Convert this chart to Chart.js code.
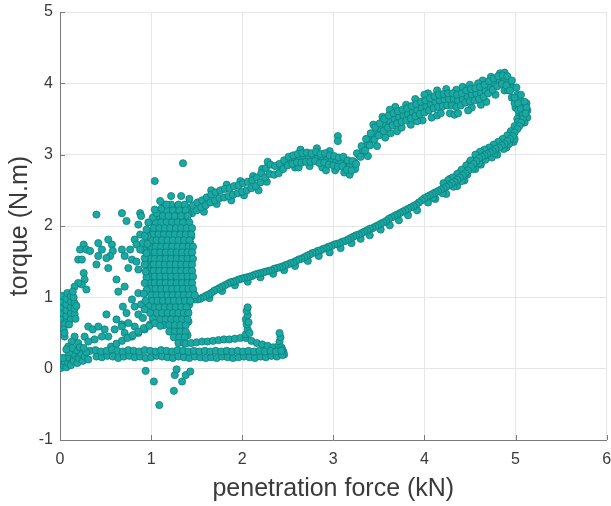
<!DOCTYPE html>
<html>
<head>
<meta charset="utf-8">
<script src="https://cdn.jsdelivr.net/npm/chart.js@4.4.0/dist/chart.umd.min.js"></script>
<style>
html,body{margin:0;padding:0;background:#fff;}
canvas{display:block;}
</style>
</head>
<body>
<canvas id="grafTorque" width="611" height="506"></canvas>
<script>
//	Ensayo de penetracion: par frente a fuerza de penetracion, puntos [kN, N.m]

var tituloX='penetration force (kN)';
var tituloY='torque (N.m)';
var ticksX=[0,1,2,3,4,5,6];
var ticksY=[-1,0,1,2,3,4,5];

//	rama de carga (superior)
var ramaCarga=[
[1.40,2.15],[1.40,2.25],[1.45,2.18],[1.46,2.29],[1.50,2.22],[1.51,2.33],[1.55,2.26],[1.56,2.36],
[1.60,2.29],[1.61,2.40],[1.65,2.33],[1.66,2.44],[1.70,2.36],[1.71,2.47],[1.75,2.39],[1.76,2.50],
[1.80,2.40],[1.81,2.52],[1.85,2.42],[1.86,2.53],[1.90,2.44],[1.91,2.56],[1.95,2.46],[1.96,2.57],
[2.00,2.48],[2.01,2.60],[2.05,2.50],[2.06,2.62],[2.10,2.53],[2.11,2.64],[2.15,2.56],[2.16,2.68],
[2.20,2.61],[2.21,2.74],[2.25,2.68],[2.26,2.81],[2.30,2.73],[2.31,2.86],[2.35,2.72],[2.36,2.84],
[2.40,2.74],[2.41,2.87],[2.45,2.80],[2.46,2.92],[2.50,2.85],[2.51,2.97],[2.55,2.87],[2.56,2.99],
[2.60,2.89],[2.61,3.01],[2.65,2.89],[2.66,3.02],[2.70,2.90],[2.71,3.03],[2.75,2.90],[2.76,3.02],
[2.80,2.91],[2.81,3.04],[2.85,2.88],[2.86,3.01],[2.90,2.89],[2.91,3.02],[2.95,2.86],[2.96,2.99],
[3.00,2.85],[3.01,2.98],[3.05,2.83],[3.06,2.96],[3.10,2.84],[3.11,2.97],[3.15,2.79],[3.16,2.92],
[3.20,2.78],[3.21,2.91],[3.25,2.87],[3.26,3.02],[3.30,2.97],[3.31,3.12],[3.35,3.06],[3.36,3.22],
[3.40,3.13],[3.41,3.30],[3.45,3.21],[3.46,3.38],[3.50,3.27],[3.51,3.44],[3.55,3.33],[3.56,3.50],
[3.60,3.38],[3.61,3.55],[3.65,3.41],[3.66,3.58],[3.70,3.44],[3.71,3.61],[3.75,3.46],[3.76,3.63],
[3.80,3.48],[3.81,3.65],[3.85,3.51],[3.86,3.68],[3.90,3.54],[3.91,3.71],[3.95,3.57],[3.96,3.74],
[4.00,3.59],[4.01,3.76],[4.05,3.62],[4.06,3.79],[4.10,3.65],[4.11,3.82],[4.15,3.67],[4.16,3.84],
[4.20,3.68],[4.21,3.85],[4.25,3.69],[4.26,3.86],[4.30,3.69],[4.31,3.86],[4.35,3.67],[4.36,3.84],
[4.40,3.69],[4.41,3.86],[4.45,3.73],[4.46,3.90],[4.50,3.75],[4.51,3.92],[4.55,3.76],[4.56,3.93],
[4.60,3.78],[4.61,3.95],[4.65,3.81],[4.66,3.98],[4.70,3.86],[4.71,4.03],[4.75,3.91],[4.76,4.07],
[4.80,3.96],[4.81,4.10],[4.85,3.99],[4.86,4.11],[4.90,3.97],[4.91,4.10],[4.94,3.90],[4.96,4.04],
[4.99,3.80],[5.01,3.94],[5.03,3.72],[5.06,3.84],[5.06,3.64],[5.10,3.74],[5.08,3.56],[5.12,3.66],
[5.08,3.50],[5.11,3.58],[5.06,3.44]
];
var ramaCargaCentro=[
[3.32,3.05],[3.37,3.14],[3.42,3.22],[3.47,3.30],[3.52,3.36],[3.57,3.42],[3.62,3.47],[3.67,3.50],
[3.72,3.53],[3.77,3.55],[3.82,3.57],[3.87,3.60],[3.92,3.63],[3.97,3.66],[4.02,3.68],[4.07,3.71],
[4.12,3.74],[4.17,3.76],[4.22,3.77],[4.27,3.78],[4.32,3.78],[4.37,3.76],[4.42,3.78],[4.47,3.82],
[4.52,3.84],[4.57,3.85],[4.62,3.87],[4.67,3.90],[4.72,3.95],[4.77,4.00],[4.82,4.04],[4.87,4.06],
[4.92,4.02],[4.97,3.94],[5.02,3.84],[5.05,3.76],[5.09,3.66],[5.10,3.58],[5.06,3.52],[5.03,3.62],
[4.99,3.72],[5.02,3.50],
[3.57,3.24],[3.75,3.38],[3.92,3.47],[4.18,3.58],[4.37,3.58],[4.48,3.62],[3.62,3.63],[4.00,3.84],
[4.42,3.95],[4.59,4.00],[2.92,2.78],[3.05,3.26],[3.05,3.19],[2.27,2.62],[2.62,2.82]
];
//	bordes irregulares de la rama de carga
var ramaCargaBorde=[
[3.38,2.98],[3.48,3.12],[3.63,3.30],[3.70,3.33],[3.85,3.42],[3.98,3.48],[4.08,3.52],[4.14,3.55],
[4.28,3.58],[4.33,3.56],[4.52,3.66],[4.62,3.70],[4.68,3.74],[4.78,3.84],[4.88,3.90],
[3.44,3.42],[3.54,3.53],[3.68,3.67],[3.80,3.70],[3.90,3.78],[4.04,3.86],[4.14,3.90],[4.24,3.92],
[4.35,3.91],[4.50,3.98],[4.64,4.04],[4.73,4.09],[4.83,4.14],[4.88,4.15],
[2.43,2.80],[2.48,2.88],[2.53,2.91],[2.58,2.94],[2.63,2.95],[2.68,2.96],[2.73,2.96],[2.78,2.97],
[2.83,2.95],[2.88,2.95],[2.93,2.93],[2.98,2.91],[3.03,2.90],[3.08,2.90],[3.13,2.86],[3.18,2.84],
[3.23,2.90],[3.28,3.00],
[2.58,2.82],[2.74,2.84],[2.88,2.82],[3.02,2.78],[3.12,2.75],[3.18,2.72],[3.24,2.80],
[2.64,3.07],[2.82,3.09],[2.96,3.05],
[1.58,2.20],[1.72,2.31],[1.88,2.36],[2.02,2.43],[2.18,2.50],[1.66,2.50],[1.83,2.58],[1.98,2.63],
[2.12,2.70],[2.22,2.80],[2.28,2.90],
[5.12,3.72],[5.13,3.62],[5.13,3.52],[5.10,3.45],[5.04,3.56],[5.00,3.66],[4.96,3.80],[4.92,3.90],
[5.04,3.68]
];

//	rama de descarga (inferior)
var ramaDescarga=[
[5.06,3.45],[5.04,3.40],[5.02,3.36],[4.99,3.31],[4.97,3.26],[4.94,3.22],[4.91,3.19],[4.88,3.15],
[4.85,3.13],[4.82,3.10],[4.78,3.08],[4.75,3.05],[4.72,3.03],[4.69,3.01],[4.66,2.99],[4.63,2.97],
[4.60,2.95],[4.57,2.91],[4.54,2.87],[4.51,2.83],[4.48,2.78],[4.45,2.74],[4.42,2.71],[4.39,2.68],
[4.36,2.65],[4.33,2.62],[4.30,2.60],[4.27,2.57],[4.24,2.55],[4.21,2.53],[4.18,2.51],[4.15,2.49],
[4.12,2.47],[4.09,2.45],[4.06,2.43],[4.03,2.41],[4.00,2.39],[3.97,2.36],[3.94,2.33],[3.91,2.30],
[3.88,2.28],[3.85,2.26],[3.82,2.24],[3.79,2.22],[3.76,2.20],[3.73,2.18],[3.70,2.16],[3.67,2.14],
[3.64,2.12],[3.61,2.10],[3.58,2.07],[3.55,2.05],[3.52,2.03],[3.49,2.01],[3.46,1.99],[3.43,1.97],
[3.40,1.96],[3.37,1.94],[3.34,1.92],[3.31,1.90],[3.28,1.88],[3.25,1.87],[3.22,1.85],[3.19,1.83],
[3.16,1.81],[3.13,1.79],[3.10,1.78],[3.07,1.76],[3.04,1.75],[3.01,1.74],[2.98,1.72],[2.95,1.71],
[2.92,1.69],[2.89,1.68],[2.86,1.66],[2.83,1.65],[2.80,1.63],[2.77,1.62],[2.74,1.60],[2.71,1.58],
[2.68,1.56],[2.65,1.54],[2.62,1.53],[2.59,1.51],[2.56,1.49],[2.53,1.48],[2.50,1.46],[2.47,1.45],
[2.44,1.43],[2.41,1.42],[2.38,1.41],[2.35,1.40],[2.32,1.38],[2.29,1.37],[2.26,1.36],[2.23,1.35],
[2.20,1.34],[2.17,1.33],[2.14,1.32],[2.11,1.30],[2.08,1.29],[2.05,1.28],[2.02,1.27],[1.99,1.26],
[1.96,1.25],[1.93,1.23],[1.90,1.22],[1.87,1.21],[1.84,1.19],[1.81,1.17],[1.78,1.15],[1.75,1.13],
[1.72,1.11],[1.69,1.09],[1.66,1.06],[1.63,1.04],[1.60,1.02],[1.57,1.00],[1.54,0.98],[1.51,0.97],
[1.48,0.97]
];
var dientesDescarga=[
[4.98,3.18],[4.90,3.10],[4.80,3.00],[4.74,2.96],[4.62,2.86],[4.56,2.80],[4.44,2.64],[4.36,2.56],
[4.24,2.45],[4.12,2.38],[4.04,2.33],[3.92,2.22],[3.82,2.15],[3.72,2.08],[3.62,2.01],[3.52,1.95],
[3.40,1.87],[3.30,1.82],[3.20,1.76],[3.08,1.69],[2.96,1.63],[2.84,1.58],[2.72,1.51],[2.58,1.44],
[2.46,1.38],[2.34,1.33],[2.20,1.28],[2.06,1.22],[1.92,1.17],[1.78,1.09],[1.64,0.99],
[4.95,3.32],[4.86,3.21],[4.70,3.07],[4.58,2.99],[4.50,2.90],[4.40,2.76],[4.28,2.66],
[5.03,3.46],[4.99,3.40],[4.95,3.33],[4.91,3.27],[4.86,3.22],[4.81,3.18],[4.76,3.14],[4.71,3.10],
[4.66,3.07],[4.61,3.04],[4.56,3.00],[4.51,2.92],[4.46,2.85],[4.41,2.79],[4.36,2.73],[4.31,2.68],
[4.26,2.64],[4.21,2.60],
[4.99,3.22],[4.93,3.15],[4.87,3.08],[4.77,3.02],[4.67,2.93],[4.60,2.88],[4.53,2.80],[4.47,2.72],
[4.41,2.63],[4.32,2.55],[4.20,2.46],[4.10,2.40]
];

//	nube de arranque (1 - 1.5 kN)
var nubeArranque=[
[1.15,2.30],[1.22,2.30],[1.30,2.30],[1.37,2.30],
[1.10,2.22],[1.17,2.22],[1.24,2.22],[1.31,2.22],[1.38,2.22],
[1.07,2.14],[1.13,2.14],[1.19,2.14],[1.26,2.14],[1.33,2.14],[1.40,2.14],
[1.05,2.05],[1.11,2.05],[1.17,2.05],[1.23,2.05],[1.29,2.05],[1.35,2.05],[1.42,2.05],
[1.03,1.97],[1.09,1.97],[1.15,1.97],[1.21,1.97],[1.27,1.97],[1.33,1.97],[1.39,1.97],[1.45,1.97],
[1.02,1.88],[1.08,1.88],[1.14,1.88],[1.20,1.88],[1.26,1.88],[1.32,1.88],[1.38,1.88],[1.44,1.88],
[1.00,1.80],[1.06,1.80],[1.12,1.80],[1.18,1.80],[1.24,1.80],[1.30,1.80],[1.36,1.80],[1.42,1.80],
[0.99,1.71],[1.05,1.71],[1.11,1.71],[1.17,1.71],[1.23,1.71],[1.29,1.71],[1.35,1.71],[1.41,1.71],[1.46,1.71],
[0.98,1.63],[1.04,1.63],[1.10,1.63],[1.16,1.63],[1.22,1.63],[1.28,1.63],[1.34,1.63],[1.40,1.63],[1.45,1.63],
[0.98,1.54],[1.04,1.54],[1.10,1.54],[1.16,1.54],[1.22,1.54],[1.28,1.54],[1.34,1.54],[1.40,1.54],[1.46,1.54],
[0.97,1.46],[1.03,1.46],[1.09,1.46],[1.15,1.46],[1.21,1.46],[1.27,1.46],[1.33,1.46],[1.39,1.46],[1.45,1.46],
[0.97,1.37],[1.03,1.37],[1.09,1.37],[1.15,1.37],[1.21,1.37],[1.27,1.37],[1.33,1.37],[1.39,1.37],[1.45,1.37],
[0.98,1.29],[1.04,1.29],[1.10,1.29],[1.16,1.29],[1.22,1.29],[1.28,1.29],[1.34,1.29],[1.40,1.29],[1.46,1.29],
[0.98,1.20],[1.04,1.20],[1.10,1.20],[1.16,1.20],[1.22,1.20],[1.28,1.20],[1.34,1.20],[1.40,1.20],[1.45,1.20],
[0.99,1.12],[1.05,1.12],[1.11,1.12],[1.17,1.12],[1.23,1.12],[1.29,1.12],[1.35,1.12],[1.41,1.12],[1.46,1.12],
[1.00,1.03],[1.06,1.03],[1.12,1.03],[1.18,1.03],[1.24,1.03],[1.30,1.03],[1.36,1.03],[1.42,1.03],[1.48,1.03],
[1.01,0.95],[1.07,0.95],[1.13,0.95],[1.19,0.95],[1.25,0.95],[1.31,0.95],[1.37,0.95],[1.43,0.95],
[1.03,0.86],[1.09,0.86],[1.15,0.86],[1.21,0.86],[1.27,0.86],[1.33,0.86],[1.39,0.86],
[1.06,0.78],[1.12,0.78],[1.18,0.78],[1.24,0.78],[1.30,0.78],[1.36,0.78],[1.41,0.78],
[1.10,0.69],[1.16,0.69],[1.22,0.69],[1.28,0.69],[1.34,0.69],[1.40,0.69],
[1.14,0.61],[1.20,0.61],[1.26,0.61],[1.32,0.61],[1.38,0.61],
[1.20,0.52],[1.26,0.52],[1.32,0.52],[1.38,0.52],
[1.25,0.44],[1.31,0.44],[1.37,0.44],
[1.30,0.36],[1.36,0.36],
[0.95,1.28],[0.94,1.48],[0.96,1.86],[0.92,1.66],[0.95,1.10],[0.97,0.88],[0.99,0.78],[1.02,0.70]
];
//	puntos intercalados de la nube
var nubeIntercalada=[
[1.13,2.26],[1.21,2.27],[1.27,2.25],[1.34,2.27],
[1.09,2.18],[1.16,2.19],[1.21,2.17],[1.28,2.18],[1.36,2.19],[1.41,2.17],
[1.06,2.09],[1.13,2.10],[1.18,2.08],[1.25,2.10],[1.32,2.09],[1.38,2.11],
[1.04,2.01],[1.10,2.02],[1.17,2.00],[1.22,2.01],[1.29,2.02],[1.34,2.00],[1.41,2.02],
[1.01,1.92],[1.07,1.93],[1.14,1.91],[1.19,1.92],[1.26,1.93],[1.31,1.91],[1.37,1.92],[1.43,1.93],
[1.01,1.84],[1.08,1.85],[1.13,1.83],[1.20,1.84],[1.25,1.85],[1.32,1.83],[1.37,1.84],[1.44,1.85],
[1.00,1.75],[1.07,1.76],[1.12,1.74],[1.19,1.75],[1.24,1.76],[1.31,1.74],[1.36,1.75],[1.43,1.76],
[0.99,1.67],[1.06,1.68],[1.11,1.66],[1.18,1.67],[1.23,1.68],[1.30,1.66],[1.35,1.67],[1.42,1.68],
[1.00,1.58],[1.07,1.59],[1.12,1.57],[1.19,1.58],[1.24,1.59],[1.31,1.57],[1.36,1.58],[1.43,1.59],
[0.99,1.50],[1.06,1.51],[1.11,1.49],[1.18,1.50],[1.23,1.51],[1.30,1.49],[1.35,1.50],[1.42,1.51],
[1.00,1.41],[1.07,1.42],[1.12,1.40],[1.19,1.41],[1.24,1.42],[1.31,1.40],[1.36,1.41],[1.43,1.42],
[1.00,1.33],[1.07,1.34],[1.12,1.32],[1.19,1.33],[1.24,1.34],[1.31,1.32],[1.36,1.33],[1.43,1.34],
[1.01,1.24],[1.08,1.25],[1.13,1.23],[1.20,1.24],[1.25,1.25],[1.32,1.23],[1.37,1.24],[1.44,1.25],
[1.01,1.16],[1.08,1.17],[1.13,1.15],[1.20,1.16],[1.25,1.17],[1.32,1.15],[1.37,1.16],[1.44,1.17],
[1.03,1.07],[1.10,1.08],[1.15,1.06],[1.22,1.07],[1.27,1.08],[1.34,1.06],[1.39,1.07],[1.46,1.08],
[1.04,0.99],[1.11,1.00],[1.16,0.98],[1.23,0.99],[1.28,1.00],[1.35,0.98],[1.40,0.99],[1.47,1.00],
[1.06,0.90],[1.13,0.91],[1.18,0.89],[1.25,0.90],[1.30,0.91],[1.37,0.89],[1.42,0.90],
[1.09,0.82],[1.16,0.83],[1.21,0.81],[1.28,0.82],[1.33,0.83],[1.40,0.81],
[1.13,0.73],[1.20,0.74],[1.25,0.72],[1.32,0.73],[1.37,0.74],
[1.17,0.65],[1.24,0.66],[1.29,0.64],[1.36,0.65],[1.41,0.66],
[1.23,0.56],[1.30,0.57],[1.35,0.55],
[1.28,0.48],[1.35,0.49],[1.40,0.47]
];

//	linea base (par residual)
var lineaBase=[
[0.40,0.17],[0.46,0.16],[0.52,0.18],[0.58,0.17],[0.64,0.15],[0.70,0.17],[0.76,0.18],[0.82,0.16],
[0.88,0.17],[0.94,0.15],[1.00,0.16],[1.06,0.18],[1.12,0.17],[1.18,0.16],[1.24,0.15],[1.30,0.17],
[1.36,0.16],[1.42,0.15],[1.48,0.17],[1.54,0.16],[1.60,0.15],[1.66,0.16],[1.72,0.15],[1.78,0.17],
[1.84,0.16],[1.90,0.15],[1.96,0.16],[2.02,0.17],[2.08,0.16],[2.14,0.15],[2.20,0.17],[2.26,0.16],
[2.32,0.18],[2.38,0.17],[2.44,0.19],
[0.33,0.25],[0.39,0.26],[0.45,0.24],[0.51,0.25],[0.57,0.27],[0.63,0.25],[0.69,0.24],[0.75,0.26],
[0.81,0.25],[0.87,0.24],[0.93,0.26],[0.99,0.25],[1.05,0.24],[1.11,0.26],[1.17,0.25],[1.23,0.24],
[1.29,0.26],[1.35,0.25],[1.41,0.24],[1.47,0.25],[1.53,0.24],[1.59,0.25],[1.65,0.24],[1.71,0.25],
[1.77,0.24],[1.83,0.25],[1.89,0.24],[1.95,0.25],[2.01,0.24],[2.07,0.25],[2.13,0.24],[2.19,0.25],
[2.25,0.24],[2.31,0.25],[2.37,0.24],[2.43,0.25]
];
var lineaMedia=[
[1.38,0.35],[1.44,0.36],[1.50,0.37],[1.56,0.38],[1.62,0.38],[1.68,0.39],[1.74,0.40],[1.80,0.41],
[1.86,0.41],[1.92,0.42],[1.98,0.43],[2.04,0.43],[2.10,0.39],[2.16,0.36],[2.22,0.34],[2.28,0.32],
[2.34,0.30],
[2.04,0.48],[2.06,0.55],[2.05,0.62],[2.04,0.69],[2.06,0.75],[2.05,0.81],[2.06,0.86],[2.08,0.50],
[2.07,0.65],
[2.40,0.32],[2.41,0.38],[2.42,0.44],[2.41,0.50],[2.43,0.30],[2.45,0.24],[2.46,0.20],[2.44,0.27]
];
var cunaInicial=[
[0.01,0.01],[0.04,0.04],[0.07,0.02],[0.05,0.10],[0.09,0.08],[0.12,0.05],[0.11,0.14],[0.08,0.16],
[0.15,0.11],[0.17,0.18],[0.19,0.08],[0.21,0.14],[0.23,0.21],[0.25,0.11],[0.27,0.17],[0.29,0.23],
[0.31,0.13],[0.14,0.21],[0.10,0.23],[0.18,0.26],[0.22,0.30],[0.26,0.29],[0.13,0.29],[0.03,0.15],
[0.07,0.27]
];

//	grupo junto al eje de par
var grupoIzq=[
[0.02,0.70],[0.02,0.78],[0.02,0.86],[0.02,0.94],[0.03,1.02],[0.07,0.66],[0.07,0.74],[0.07,0.82],
[0.07,0.90],[0.07,0.98],[0.08,1.06],[0.12,0.70],[0.12,0.78],[0.12,0.86],[0.12,0.94],[0.12,1.02],
[0.16,0.76],[0.16,0.84],[0.16,0.92],[0.15,1.00],[0.05,0.62],[0.10,0.62],[0.04,0.55],[0.05,0.50],
[0.14,1.08],[0.18,0.88],[0.17,0.70]
];

//	puntos sueltos
var sueltos=[
[0.40,2.16],[0.68,2.18],[0.73,2.07],[0.88,2.18],[0.89,2.14],[0.86,2.02],[1.04,2.63],[1.35,2.88],
[1.10,2.35],[1.11,2.24],[1.02,2.12],[1.06,2.18],[1.04,2.23],[1.22,2.42],[1.33,2.42],[1.42,2.38],
[1.17,2.30],
[0.26,1.74],[0.22,1.67],[0.29,1.67],[0.20,1.53],[0.24,1.53],[0.33,1.65],[0.42,1.76],[0.46,1.67],
[0.42,1.58],[0.40,1.46],[0.53,1.81],[0.57,1.74],[0.58,1.65],[0.55,1.58],[0.51,1.55],[0.53,1.41],
[0.68,1.67],[0.71,1.58],[0.77,1.67],[0.79,1.53],[0.75,1.41],[0.82,1.81],[0.84,1.74],[0.88,1.88],
[0.93,1.86],[0.91,1.76],[0.88,1.67],[0.84,1.50],[0.86,1.39],[0.93,1.46],[0.94,1.36],[0.93,1.55],
[0.26,1.34],[0.27,1.25],[0.24,1.18],[0.20,1.20],[0.16,1.15],[0.29,1.11],[0.62,1.25],[0.71,1.15],
[0.64,1.08],[0.79,0.97],[0.86,1.06],[0.82,0.87],[0.89,0.90],[0.93,0.83],[0.86,0.76],[0.91,0.71],
[0.69,0.87],[0.73,0.78],[0.51,0.76],[0.62,0.69],[0.68,0.62],
[0.31,0.59],[0.36,0.55],[0.42,0.59],[0.49,0.55],[0.53,0.45],[0.46,0.45],[0.38,0.41],[0.27,0.45],
[0.31,0.38],[0.60,0.55],[0.68,0.59],[0.75,0.64],[0.82,0.59],[0.71,0.50],[0.79,0.45],[0.86,0.50],
[0.93,0.55],[0.99,0.62],[0.16,0.45],[0.13,0.38],[0.20,0.36],[0.09,0.31],[0.05,0.45],
[0.93,1.20],[0.92,1.05],[0.94,0.95],[0.95,1.62],[0.96,1.75],[0.95,1.95],[0.97,2.05],
[0.56,0.31],[0.62,0.35],[0.68,0.39],[0.74,0.43],[0.80,0.47],[0.86,0.52],[0.92,0.57],[0.98,0.60],
[1.04,0.64],[1.10,0.60]
];
var negativos=[
[0.94,-0.03],[1.03,-0.18],[1.09,-0.51],[1.25,-0.31],[1.26,-0.09],[1.28,-0.01],[1.34,-0.18],
[1.38,-0.09],[1.43,-0.04]
];

var Fuente='"Liberation Sans", Arial, Helvetica, sans-serif';
var ColorTexto='#3a3a3a';
var ColorEje='#7a7a7a';

function aPuntos(arr)
{
	var res=[];
	for (var i=0;i<arr.length;++i)
		res.push({x:arr[i][0], y:arr[i][1]});
	return res;
}

var grupos=[cunaInicial, lineaBase, lineaMedia, grupoIzq, sueltos, negativos, nubeArranque, nubeIntercalada,
	ramaDescarga, dientesDescarga, ramaCarga, ramaCargaCentro, ramaCargaBorde];
var Datasets=[];
for (var g=0;g<grupos.length;++g)
{
	Datasets.push({
		data: aPuntos(grupos[g]),
		backgroundColor: '#1aa8a3',
		borderColor: '#0c7f7b',
		borderWidth: 0.8,
		pointRadius: 3.6,
		pointHoverRadius: 3.6
	});
}

//	marcas de division hacia dentro, como en MATLAB
var marcasInternas={
	id: 'marcasInternas',
	afterDatasetsDraw: function(chart)
	{
		var ctx=chart.ctx, a=chart.chartArea;
		var sx=chart.scales.x, sy=chart.scales.y;
		ctx.save();
		ctx.strokeStyle=ColorEje;
		ctx.lineWidth=1;
		ctx.beginPath();
		for (var i=0;i<ticksX.length;++i)
		{
			var px=Math.round(sx.getPixelForValue(ticksX[i]))+0.5;
			ctx.moveTo(px, a.bottom);
			ctx.lineTo(px, a.bottom-5);
		}
		for (var j=0;j<ticksY.length;++j)
		{
			var py=Math.round(sy.getPixelForValue(ticksY[j]))+0.5;
			ctx.moveTo(a.left, py);
			ctx.lineTo(a.left+5, py);
		}
		ctx.stroke();
		ctx.restore();
	}
};

var ctx=document.getElementById('grafTorque').getContext('2d');
var myChart=new Chart(ctx, {
	type: 'scatter',
	data: { datasets: Datasets },
	options: {
		animation: false,
		responsive: false,
		devicePixelRatio: 1,
		events: [],
		layout: { padding: { left: 0, right: 3, top: 12, bottom: 0 } },
		plugins: { legend: { display: false }, tooltip: { enabled: false } },
		scales: {
			x: {
				type: 'linear', min: 0, max: 6,
				afterBuildTicks: function(s){ s.ticks=ticksX.map(function(v){ return {value:v}; }); },
				ticks: { color: ColorTexto, font: { family: Fuente, size: 16 }, padding: 10, maxRotation: 0 },
				grid: { color: '#e6e6e6', drawTicks: false },
				border: { color: ColorEje, width: 1 },
				title: { display: true, text: tituloX, color: ColorTexto, font: { family: Fuente, size: 25 }, padding: { top: 0, bottom: 2 } },
				afterFit: function(s){ s.height=66; s.paddingLeft=0; s.paddingRight=0; }
			},
			y: {
				type: 'linear', min: -1, max: 5,
				afterBuildTicks: function(s){ s.ticks=ticksY.map(function(v){ return {value:v}; }); },
				ticks: { color: ColorTexto, font: { family: Fuente, size: 16 }, padding: 7 },
				grid: { color: '#e6e6e6', drawTicks: false },
				border: { color: ColorEje, width: 1 },
				title: { display: true, text: tituloY, color: ColorTexto, font: { family: Fuente, size: 25 }, padding: { top: 5, bottom: 0 } },
				afterFit: function(s){ s.width=60; s.paddingTop=0; s.paddingBottom=0; }
			}
		}
	},
	plugins: [marcasInternas]
});
</script>
</body>
</html>
